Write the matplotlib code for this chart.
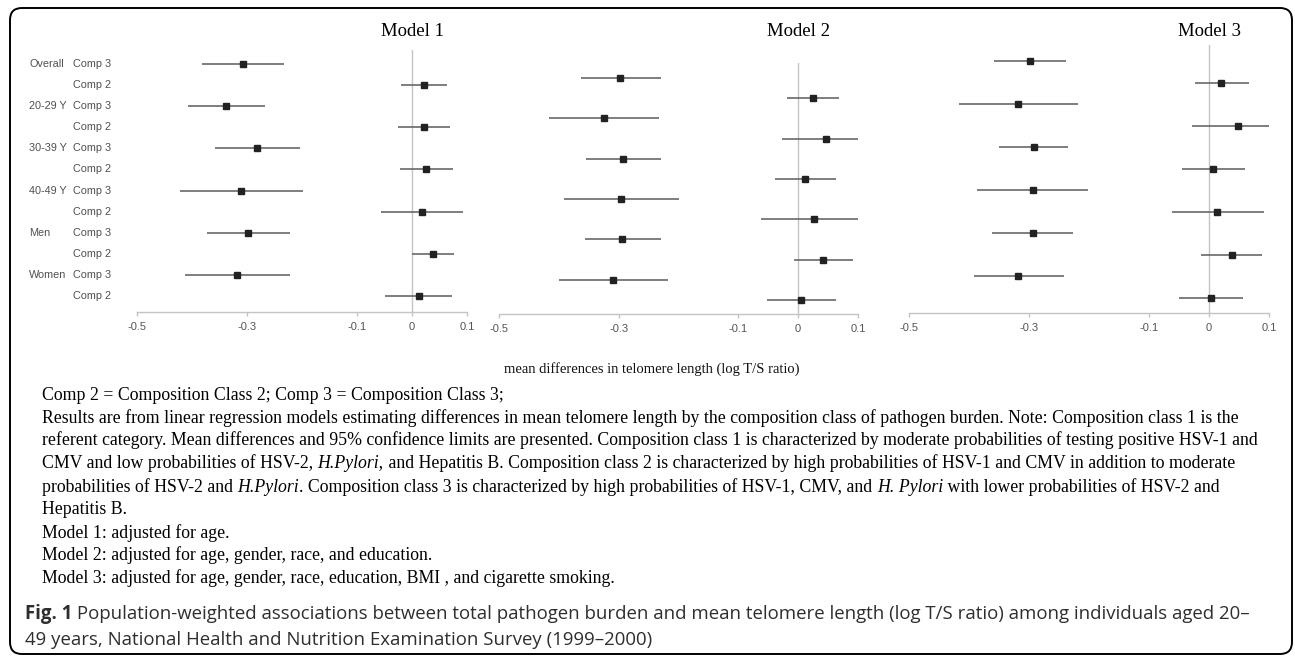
import matplotlib
matplotlib.use('Agg')
import matplotlib.pyplot as plt
from matplotlib.patches import FancyBboxPatch
from matplotlib.transforms import IdentityTransform

# 数据: 每行 = 分组 x 组成类别, 从上到下
groups = ['Overall', '20-29 Y', '30-39 Y', '40-49 Y', 'Men', 'Women']
comps = ['Comp 3', 'Comp 2']

m1_est = [-0.308, 0.022, -0.338, 0.022, -0.282, 0.026, -0.311, 0.018, -0.298, 0.038, -0.318, 0.012]
m1_lo = [-0.382, -0.020, -0.407, -0.025, -0.359, -0.022, -0.422, -0.056, -0.373, 0.000, -0.412, -0.050]
m1_hi = [-0.232, 0.064, -0.267, 0.069, -0.203, 0.075, -0.199, 0.092, -0.221, 0.077, -0.222, 0.072]

m2_est = [-0.297, 0.025, -0.324, 0.047, -0.293, 0.012, -0.296, 0.027, -0.294, 0.042, -0.310, 0.005]
m2_lo = [-0.363, -0.018, -0.416, -0.027, -0.354, -0.038, -0.392, -0.062, -0.357, -0.007, -0.400, -0.052]
m2_hi = [-0.230, 0.069, -0.232, 0.109, -0.230, 0.063, -0.199, 0.109, -0.230, 0.091, -0.218, 0.063]

m3_est = [-0.298, 0.020, -0.319, 0.048, -0.292, 0.007, -0.294, 0.014, -0.294, 0.038, -0.318, 0.003]
m3_lo = [-0.358, -0.023, -0.417, -0.029, -0.350, -0.045, -0.387, -0.062, -0.362, -0.013, -0.392, -0.050]
m3_hi = [-0.238, 0.066, -0.219, 0.108, -0.235, 0.060, -0.201, 0.091, -0.227, 0.088, -0.242, 0.057]

models = ['Model 1', 'Model 2', 'Model 3']
xticks = [-0.5, -0.3, -0.1, 0, 0.1]
xtick_labels = ['-0.5', '-0.3', '-0.1', '0', '0.1']

W, H = 1295, 658
fig = plt.figure(figsize=(W / 100, H / 100), dpi=100)
renderer = fig.canvas.get_renderer()

SERIF = 'Liberation Serif'
SANS = 'Liberation Sans'
CAP = ['Open Sans', 'DejaVu Sans']

# 每个面板的像素位置: x(-0.5), x(0.1), 顶部, 轴线, 第一行, 最后一行
panels = [
    (137, 467, 50, 312, 64, 296),
    (499, 858, 63, 314, 78, 300),
    (909, 1269, 45, 313, 61, 298),
]
data = [(m1_est, m1_lo, m1_hi), (m2_est, m2_lo, m2_hi), (m3_est, m3_lo, m3_hi)]

n = len(m1_est)
ys = [n - 1 - i for i in range(n)]
axes = []
for (x0, x1, top, bot, r0, r1), (est, lo, hi), name in zip(panels, data, models):
    ax = fig.add_axes([x0 / W, 1 - bot / H, (x1 - x0) / W, (bot - top) / H])
    s = (r1 - r0) / (n - 1)
    ax.set_xlim(-0.5, 0.1)
    ax.set_ylim(-(bot - r1) / s, (n - 1) + (r0 - top) / s)
    ax.axvline(0, color='#c4c4c4', lw=1.0, zorder=0)
    ax.hlines(ys, lo, hi, color='#686868', lw=1.2, zorder=2)
    ax.plot(est, ys, 's', color='#222222', ms=3.8, zorder=3)
    for sp in ['top', 'right', 'left']:
        ax.spines[sp].set_visible(False)
    ax.spines['bottom'].set_color('#c4c4c4')
    ax.spines['bottom'].set_linewidth(1.0)
    ax.set_yticks([])
    ax.set_xticks(xticks)
    ax.set_xticklabels(xtick_labels, family=SANS)
    ax.tick_params(axis='x', color='#c4c4c4', labelcolor='#555555', length=3, width=1.0,
                   labelsize=8, pad=4)
    ax.patch.set_alpha(0)
    ax.annotate(name, xy=(0.001, H - 32), xycoords=('data', 'figure pixels'), ha='center', va='center',
                fontsize=13.5, family=SERIF, color='black')
    axes.append(ax)

# 左侧行标签
ax1 = axes[0]
x0 = panels[0][0]
span = panels[0][1] - panels[0][0]
for i, y in enumerate(ys):
    if i % 2 == 0:
        ax1.text((29 - x0) / span, y, groups[i // 2], transform=ax1.get_yaxis_transform(),
                 ha='left', va='center', fontsize=7.8, family=SANS, color='#505050')
    ax1.text((73 - x0) / span, y, comps[i % 2], transform=ax1.get_yaxis_transform(),
             ha='left', va='center', fontsize=7.8, family=SANS, color='#505050')

fig.text(651.5 / W, 1 - 369 / H, 'mean differences in telomere length (log T/S ratio)',
         ha='center', va='center', fontsize=10.5, family=SERIF, color='#111111')


def text_width(s, **kw):
    t = fig.text(0, 0, '|' + s + '|', **kw)
    w = t.get_window_extent(renderer).width
    t.remove()
    t = fig.text(0, 0, '||', **kw)
    w -= t.get_window_extent(renderer).width
    t.remove()
    return w


def draw_parts(x, y, parts, **kw):
    # 逐段写出, 支持斜体片段
    for txt, st in parts:
        fig.text(x / W, 1 - y / H, txt, ha='left', va='baseline', style=st[0], weight=st[1], **kw)
        x += text_width(txt, style=st[0], weight=st[1], **kw)


N = ('normal', 'normal')
I = ('italic', 'normal')
B = ('normal', 'bold')

notes = [
    [('Comp 2 = Composition Class 2; Comp 3 = Composition Class 3;', N)],
    [('Results are from linear regression models estimating differences in mean telomere length by the composition class of pathogen burden. Note: Composition class 1 is the', N)],
    [('referent category. Mean differences and 95% confidence limits are presented. Composition class 1 is characterized by moderate probabilities of testing positive HSV-1 and', N)],
    [('CMV and low probabilities of HSV-2, ', N), ('H.Pylori,', I),
     (' and Hepatitis B. Composition class 2 is characterized by high probabilities of HSV-1 and CMV in addition to moderate', N)],
    [('probabilities of HSV-2 and ', N), ('H.Pylori', I),
     ('. Composition class 3 is characterized by high probabilities of HSV-1, CMV, and ', N),
     ('H. Pylori', I), (' with lower probabilities of HSV-2 and', N)],
    [('Hepatitis B.', N)],
    [('Model 1: adjusted for age.', N)],
    [('Model 2: adjusted for age, gender, race, and education.', N)],
    [('Model 3: adjusted for age, gender, race, education, BMI , and cigarette smoking.', N)],
]
note_y = [395, 418, 440, 463, 487, 509, 533, 555, 578]
for parts, y in zip(notes, note_y):
    draw_parts(42, y + 5, parts, fontsize=12.8, family=SERIF, color='black')

caption = [
    [('Fig. 1', B), (' Population-weighted associations between total pathogen burden and mean telomere length (log T/S ratio) among individuals aged 20\u2013', N)],
    [('49 years, National Health and Nutrition Examination Survey (1999\u20132000)', N)],
]
for parts, y in zip(caption, [613, 639]):
    draw_parts(25, y + 6, parts, fontsize=13.4, family=CAP, color='#2e2e2e')

# 圆角外框
frame = FancyBboxPatch((10, H - 654), 1282, 646, boxstyle='round,pad=0,rounding_size=12',
                       transform=IdentityTransform(), fill=False, ec='black', lw=1.4)
fig.add_artist(frame)

plt.savefig('out.png', dpi=100)
